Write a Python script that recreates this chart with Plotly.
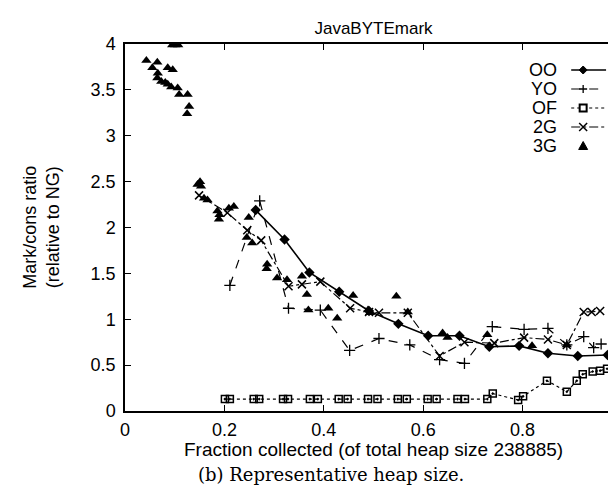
import plotly.graph_objects as go

# ---- data ----
series_names = ["OO", "YO", "OF", "2G", "3G"]

oo_x = [0.263, 0.321, 0.371, 0.431, 0.491, 0.550, 0.610, 0.673, 0.733, 0.793, 0.851, 0.911, 0.971]
oo_y = [2.19, 1.87, 1.51, 1.30, 1.09, 0.95, 0.82, 0.82, 0.70, 0.71, 0.63, 0.60, 0.61]

yo_x = [0.211, 0.271, 0.329, 0.393, 0.452, 0.511, 0.573, 0.633, 0.683, 0.739, 0.803, 0.851, 0.889, 0.923, 0.943, 0.958]
yo_y = [1.37, 2.29, 1.12, 1.10, 0.66, 0.79, 0.72, 0.56, 0.52, 0.92, 0.89, 0.90, 0.72, 0.81, 0.69, 0.73]

of_x = [0.201, 0.211, 0.259, 0.270, 0.318, 0.328, 0.372, 0.388, 0.430, 0.448, 0.489, 0.508,
        0.549, 0.567, 0.609, 0.627, 0.669, 0.684, 0.729, 0.740, 0.791, 0.801, 0.849, 0.889,
        0.909, 0.921, 0.941, 0.956, 0.970]
of_y = [0.13, 0.13, 0.13, 0.13, 0.13, 0.13, 0.13, 0.13, 0.13, 0.13, 0.13, 0.13,
        0.13, 0.13, 0.13, 0.13, 0.13, 0.13, 0.13, 0.19, 0.12, 0.16, 0.33, 0.21,
        0.33, 0.40, 0.43, 0.44, 0.46]

g2_x = [0.149, 0.206, 0.246, 0.274, 0.329, 0.356, 0.393, 0.453, 0.491, 0.511, 0.569,
        0.633, 0.683, 0.743, 0.803, 0.851, 0.889, 0.923, 0.939, 0.956]
g2_y = [2.35, 2.16, 1.97, 1.86, 1.36, 1.38, 1.41, 1.12, 1.08, 1.07, 1.07,
        0.60, 0.75, 0.74, 0.80, 0.78, 0.72, 1.08, 1.08, 1.09]

g3_x = [0.043, 0.055, 0.065, 0.066, 0.065, 0.073, 0.081, 0.086, 0.096, 0.086, 0.093, 0.106,
        0.109, 0.126, 0.129, 0.125, 0.095, 0.101, 0.107,
        0.146, 0.151, 0.153, 0.159, 0.166, 0.186, 0.189, 0.190, 0.209, 0.219, 0.249, 0.245,
        0.256, 0.286, 0.285, 0.306, 0.326, 0.356, 0.366, 0.369, 0.409, 0.427, 0.459, 0.489,
        0.493, 0.546, 0.569, 0.639, 0.649, 0.729, 0.819, 0.889]
g3_y = [3.82, 3.74, 3.80, 3.68, 3.63, 3.59, 3.58, 3.74, 3.72, 3.56, 3.53, 3.52,
        3.45, 3.45, 3.32, 3.24, 3.99, 3.99, 3.99,
        2.47, 2.50, 2.45, 2.32, 2.30, 2.18, 2.09, 2.14, 2.21, 2.23, 2.11, 1.89,
        1.83, 1.60, 1.55, 1.45, 1.43, 1.47, 1.27, 1.10, 1.12, 1.01, 1.26, 1.10,
        1.07, 1.25, 1.08, 0.85, 0.80, 0.83, 0.71, 0.72]

x_ticks = [0, 0.2, 0.4, 0.6, 0.8, 1]
x_tick_labels = ["0", "0.2", "0.4", "0.6", "0.8", "1"]
y_ticks = [0, 0.5, 1, 1.5, 2, 2.5, 3, 3.5, 4]
y_tick_labels = ["0", "0.5", "1", "1.5", "2", "2.5", "3", "3.5", "4"]

FONT = "Liberation Sans"
BLACK = "black"

W, H = 616, 488
ML, MR, MT, MB = 117, 0, 36, 85
PW, PH = W - ML - MR, H - MT - MB

styles = {
    "OO": dict(line=dict(color=BLACK, width=1.6), symbol="diamond"),
    "YO": dict(line=dict(color=BLACK, width=1.2, dash="dash"), symbol="plus"),
    "OF": dict(line=dict(color=BLACK, width=1.2, dash="dot"), symbol="square"),
    "2G": dict(line=dict(color=BLACK, width=1.2, dash="dashdot"), symbol="x"),
    "3G": dict(line=None, symbol="triangle"),
}

fig = go.Figure()
fig.add_trace(go.Scatter(x=oo_x, y=oo_y, name="OO", mode="lines+markers",
                         line=styles["OO"]["line"],
                         marker=dict(symbol="diamond", size=8, color=BLACK)))
fig.add_trace(go.Scatter(x=yo_x, y=yo_y, name="YO", mode="lines+markers",
                         line=styles["YO"]["line"],
                         marker=dict(symbol="cross-thin-open", size=8,
                                     line=dict(color=BLACK, width=1.3))))
fig.add_trace(go.Scatter(x=of_x, y=of_y, name="OF", mode="lines+markers",
                         line=styles["OF"]["line"],
                         marker=dict(symbol="square-open-dot", size=7, color=BLACK,
                                     line=dict(color=BLACK, width=1.5))))
fig.add_trace(go.Scatter(x=g2_x, y=g2_y, name="2G", mode="lines+markers",
                         line=styles["2G"]["line"],
                         marker=dict(symbol="x-thin-open", size=8,
                                     line=dict(color=BLACK, width=1.5))))
fig.add_trace(go.Scatter(x=g3_x, y=g3_y, name="3G", mode="markers",
                         marker=dict(symbol="triangle-up", size=9, color=BLACK)))

# ---- gnuplot-style key: label on the left, line sample + symbol on the right ----
def px(v):  # pixels -> paper x
    return v / PW

def py(v):  # pixels -> paper y
    return v / PH

key_text_x = px(553 - ML)
key_line_x0, key_line_x1 = px(565 - ML), px(600 - ML)
key_sym_x = px(577 - ML)
key_top = py(403 - 62)
key_step = py(19)

shapes = []
annotations = []
for i, name in enumerate(series_names):
    yk = key_top - i * key_step
    st = styles[name]
    annotations.append(dict(text=name, xref="paper", yref="paper", x=key_text_x, y=yk,
                            xanchor="right", yanchor="middle", showarrow=False,
                            font=dict(family=FONT, size=18, color=BLACK)))
    if st["line"] is not None:
        shapes.append(dict(type="line", xref="paper", yref="paper",
                           x0=key_line_x0, x1=key_line_x1, y0=yk, y1=yk,
                           line=st["line"]))
    r = 4
    cx, cy = key_sym_x, yk
    dx, dy = px(r), py(r)
    sym = st["symbol"]
    if sym == "diamond":
        shapes.append(dict(type="path", xref="paper", yref="paper",
                           path=f"M {cx},{cy+dy} L {cx+dx},{cy} L {cx},{cy-dy} L {cx-dx},{cy} Z",
                           fillcolor=BLACK, line=dict(color=BLACK, width=1)))
    elif sym == "plus":
        shapes.append(dict(type="path", xref="paper", yref="paper",
                           path=f"M {cx-dx},{cy} L {cx+dx},{cy} M {cx},{cy-dy} L {cx},{cy+dy}",
                           line=dict(color=BLACK, width=1.3)))
    elif sym == "square":
        shapes.append(dict(type="rect", xref="paper", yref="paper",
                           x0=cx - px(3.5), x1=cx + px(3.5), y0=cy - py(3.5), y1=cy + py(3.5),
                           fillcolor="white", line=dict(color=BLACK, width=2)))
    elif sym == "x":
        shapes.append(dict(type="path", xref="paper", yref="paper",
                           path=f"M {cx-dx},{cy-dy} L {cx+dx},{cy+dy} M {cx-dx},{cy+dy} L {cx+dx},{cy-dy}",
                           line=dict(color=BLACK, width=1.5)))
    elif sym == "triangle":
        shapes.append(dict(type="path", xref="paper", yref="paper",
                           path=f"M {cx-px(4.5)},{cy-py(3.5)} L {cx+px(4.5)},{cy-py(3.5)} L {cx},{cy+py(4.5)} Z",
                           fillcolor=BLACK, line=dict(color=BLACK, width=1)))

annotations += [
    dict(text="Mark/cons ratio<br>(relative to NG)", xref="paper", yref="paper",
         x=px(33 - ML), y=0.5, xanchor="center", yanchor="middle", textangle=-90,
         showarrow=False, font=dict(family=FONT, size=18, color=BLACK)),
    dict(text="Fraction collected (of total heap size 238885)", xref="paper", yref="paper",
         x=0.5, y=-py(441 - 403), xanchor="center", yanchor="middle",
         showarrow=False, font=dict(family=FONT, size=19, color=BLACK)),
    dict(text="(b) Representative heap size.", xref="paper", yref="paper",
         x=px(324 - ML), y=-py(466 - 403), xanchor="center", yanchor="middle",
         showarrow=False, font=dict(family="DejaVu Serif", size=18, color=BLACK)),
]

axis_common = dict(
    showgrid=False, zeroline=False, showline=True, linecolor=BLACK, linewidth=1.5,
    mirror="ticks", ticks="inside", ticklen=6, tickwidth=1, tickcolor=BLACK,
    tickfont=dict(family=FONT, size=18, color=BLACK),
)

fig.update_layout(
    width=W, height=H,
    margin=dict(l=ML, r=MR, t=MT, b=MB),
    paper_bgcolor="white", plot_bgcolor="white",
    font=dict(family=FONT, size=18, color=BLACK),
    title=dict(text="JavaBYTEmark", x=0.5, xref="paper", xanchor="center",
               y=1 - 20 / H, yref="container", yanchor="middle",
               font=dict(family=FONT, size=17, color=BLACK)),
    xaxis=dict(range=[0, 1], tickvals=x_ticks, ticktext=x_tick_labels,
               ticklabelstandoff=2, **axis_common),
    yaxis=dict(range=[0, 4], tickvals=y_ticks, ticktext=y_tick_labels,
               ticklabelstandoff=4, **axis_common),
    showlegend=False,
    shapes=shapes,
    annotations=annotations,
)

fig.write_html("out.html")
